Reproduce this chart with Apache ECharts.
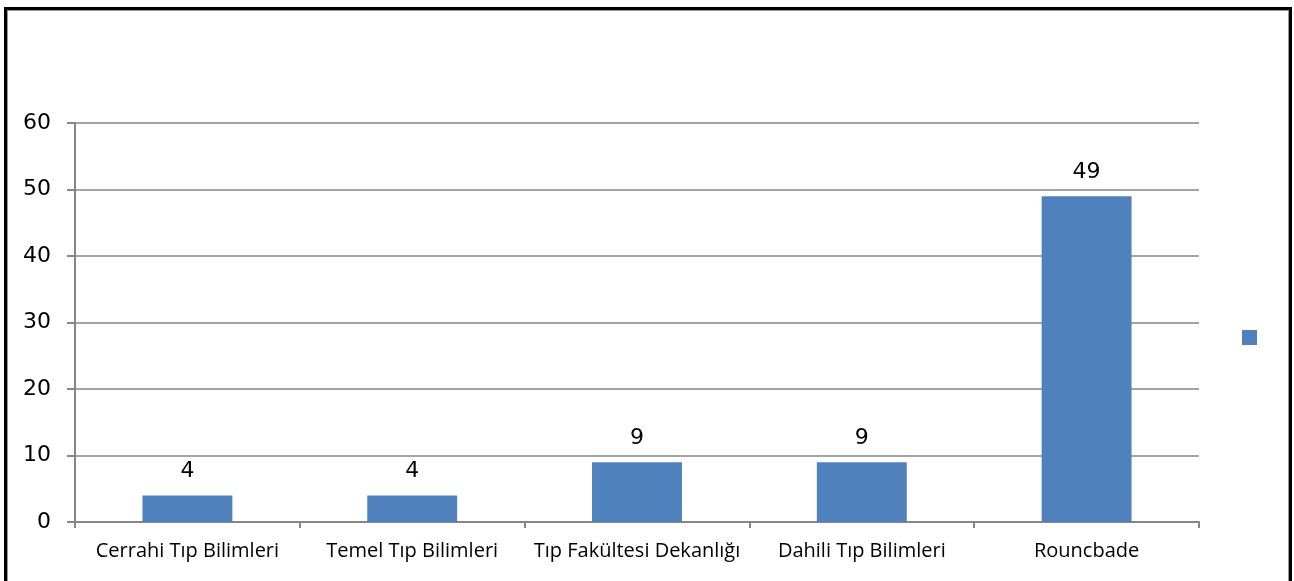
<!DOCTYPE html>
<html>
<head>
<meta charset="utf-8">
<script src="https://cdn.jsdelivr.net/npm/echarts@6/dist/echarts.min.js"></script>
<style>
html,body{margin:0;padding:0;background:#fff;}
#frame{position:absolute;left:4px;top:7px;width:1288px;height:580px;border-top:3px solid #000;border-left:3px solid #000;border-right:3px solid #000;box-sizing:border-box;}
#inner{position:absolute;left:0;top:0;right:0;bottom:3px;border:1px solid #9a9a9a;border-bottom:1px solid #e8e8e8;}
#chart{position:absolute;left:0;top:0;width:1294px;height:581px;}
</style>
</head>
<body>
<div id="frame"><div id="inner"></div></div>
<div id="chart"></div>
<script>
const categories = ['Cerrahi Tıp Bilimleri', 'Temel Tıp Bilimleri', 'Tıp Fakültesi Dekanlığı', 'Dahili Tıp Bilimleri', 'Rouncbade'];
const values = [4, 4, 9, 9, 49];
const yTicks = [0, 10, 20, 30, 40, 50, 60];
const seriesName = ' ';

const chart = echarts.init(document.getElementById('chart'));
chart.setOption({
  animation: false,
  grid: {left: 75, right: 95, top: 123, bottom: 59, containLabel: false},
  legend: {
    data: [{name: seriesName}],
    left: 1242, top: 330, padding: 0,
    icon: 'rect', itemWidth: 15, itemHeight: 15, itemGap: 0,
    textStyle: {fontSize: 1}
  },
  xAxis: {
    type: 'category',
    data: categories,
    axisLine: {lineStyle: {color: '#868686', width: 2}},
    axisTick: {show: true, interval: 0, length: 6, lineStyle: {color: '#868686', width: 2}},
    axisLabel: {interval: 0, margin: 19, color: '#000', fontFamily: 'Open Sans', fontSize: 20}
  },
  yAxis: {
    type: 'value',
    min: yTicks[0], max: yTicks[yTicks.length - 1], interval: 10,
    axisLine: {show: true, lineStyle: {color: '#868686', width: 2}},
    axisTick: {show: true, length: 8, lineStyle: {color: '#868686', width: 2}},
    splitLine: {lineStyle: {color: '#868686', width: 1.5}},
    axisLabel: {margin: 24, color: '#000', fontFamily: 'DejaVu Sans', fontSize: 22}
  },
  series: [{
    name: seriesName,
    type: 'bar',
    data: values,
    barCategoryGap: '60%',
    itemStyle: {color: '#4F81BD'},
    label: {show: true, position: 'top', distance: 13, color: '#000', fontFamily: 'DejaVu Sans', fontSize: 22}
  }]
});
</script>
</body>
</html>
